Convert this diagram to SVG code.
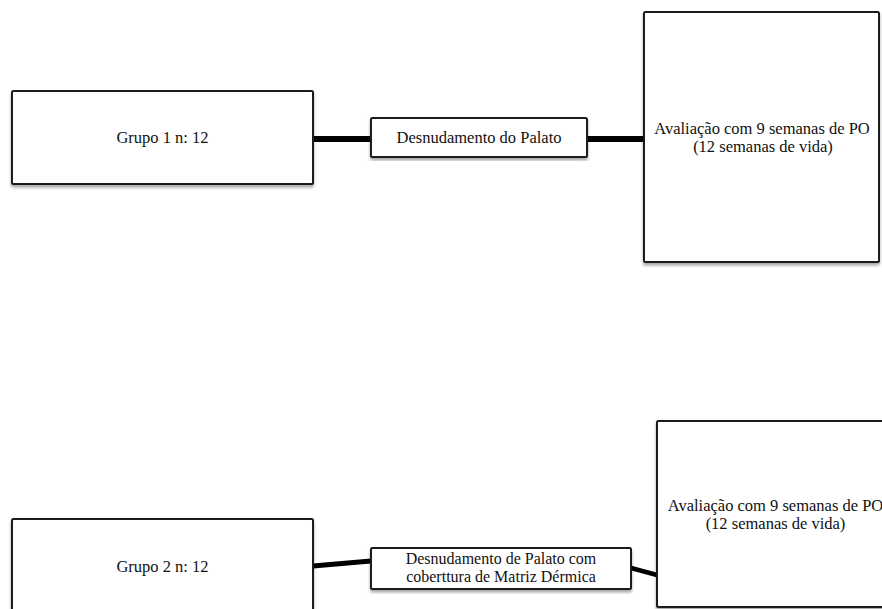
<svg xmlns="http://www.w3.org/2000/svg" width="882" height="609" viewBox="0 0 882 609">
<defs>
<filter id="sh" x="-5%" y="-5%" width="110%" height="115%">
<feDropShadow dx="0" dy="2.5" stdDeviation="1.5" flood-color="#000" flood-opacity="0.35"/>
</filter>
</defs>
<style>
.box{fill:#fff;stroke:#1a1a1a;stroke-width:2;filter:url(#sh)}
.t{font-family:"Liberation Serif","Times New Roman",serif;font-size:16.5px;fill:#111;text-anchor:middle}
.t.s{font-size:16px}
.c{stroke:#000;fill:none;stroke-linecap:butt}
</style>
<rect width="882" height="609" fill="#fff"/>
<g id="connectors">
<line class="c" x1="313" y1="139" x2="371" y2="139" stroke-width="6"/>
<line class="c" x1="587" y1="139" x2="644" y2="139" stroke-width="6"/>
<line class="c" x1="313" y1="566" x2="371" y2="561" stroke-width="5"/>
<line class="c" x1="631" y1="568" x2="657" y2="575" stroke-width="4.5"/>
</g>
<g id="grupo1">
<rect class="box" x="12" y="91" width="301" height="93" rx="1.5"/>
<text class="t" x="162.5" y="143">Grupo 1 n: 12</text>
</g>
<g id="desnudamento1">
<rect class="box" x="371" y="118" width="216" height="39" rx="1.5"/>
<text class="t" x="479" y="143">Desnudamento do Palato</text>
</g>
<g id="avaliacao1">
<rect class="box" x="644" y="12" width="235" height="250" rx="1.5"/>
<text class="t" x="762" y="134">Avaliação com 9 semanas de PO</text>
<text class="t" x="763" y="152">(12 semanas de vida)</text>
</g>
<g id="grupo2">
<rect class="box" x="12" y="519" width="301" height="110" rx="1.5"/>
<text class="t" x="162.5" y="572">Grupo 2 n: 12</text>
</g>
<g id="desnudamento2">
<rect class="box" x="371" y="548" width="260" height="41" rx="1.5"/>
<text class="t s" x="501" y="564">Desnudamento de Palato com</text>
<text class="t s" x="501" y="582">coberttura de Matriz Dérmica</text>
</g>
<g id="avaliacao2">
<rect class="box" x="657" y="421" width="238" height="186" rx="1.5"/>
<text class="t" x="775.5" y="511">Avaliação com 9 semanas de PO</text>
<text class="t" x="775.5" y="529">(12 semanas de vida)</text>
</g>
</svg>
